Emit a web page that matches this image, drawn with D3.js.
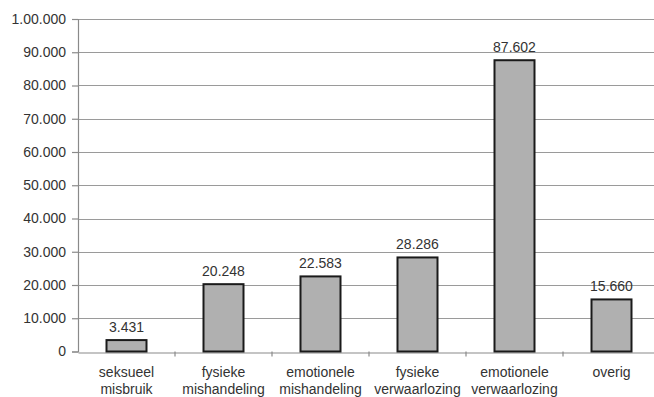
<!DOCTYPE html>
<html>
<head>
<meta charset="utf-8">
<script src="https://cdn.jsdelivr.net/npm/d3@7"></script>
<style>
  html, body { margin: 0; padding: 0; background: #fff; }
  svg { display: block; }
  text { font-family: "Liberation Sans", Arial, Helvetica, sans-serif; fill: #333; }
</style>
</head>
<body>
<svg id="chart" width="654" height="397"></svg>
<script>
// Aantal meldingen per categorie
const categories = [
  ["seksueel", "misbruik"],
  ["fysieke", "mishandeling"],
  ["emotionele", "mishandeling"],
  ["fysieke", "verwaarlozing"],
  ["emotionele", "verwaarlozing"],
  ["overig"]
];
const values = [3431, 20248, 22583, 28286, 87602, 15660];
const valueLabels = ["3.431", "20.248", "22.583", "28.286", "87.602", "15.660"];
const yTicks = [0, 10000, 20000, 30000, 40000, 50000, 60000, 70000, 80000, 90000, 100000];
const yTickLabels = ["0", "10.000", "20.000", "30.000", "40.000", "50.000", "60.000", "70.000", "80.000", "90.000", "1.00.000"];

const svg = d3.select("#chart");
const margin = { left: 78, top: 19, bottom: 46 };
const width = 654, height = 397;
const plotRight = 660;

const x = d3.scaleBand()
  .domain(d3.range(categories.length))
  .range([margin.left, plotRight])
  .paddingInner(0)
  .paddingOuter(0);

const y = d3.scaleLinear()
  .domain([0, 100000])
  .range([height - margin.bottom + 0.5, margin.top]);

// Horizontal gridlines
svg.append("g")
  .selectAll("line")
  .data(yTicks.filter(d => d > 0))
  .join("line")
  .attr("x1", margin.left)
  .attr("x2", width)
  .attr("y1", d => Math.round(y(d)) + 0.5)
  .attr("y2", d => Math.round(y(d)) + 0.5)
  .attr("stroke", "#9a9a9a")
  .attr("stroke-width", 1.2);

// Y axis
const yAxis = svg.append("g")
  .attr("transform", `translate(${margin.left},0)`)
  .call(d3.axisLeft(y)
    .tickValues(yTicks)
    .tickFormat((d, i) => yTickLabels[i])
    .tickSize(6)
    .tickPadding(6));
yAxis.select(".domain").attr("stroke", "#8a8a8a").attr("stroke-width", 1.2);
yAxis.selectAll(".tick line").attr("stroke", "#8a8a8a").attr("stroke-width", 1.2);
yAxis.selectAll(".tick text")
  .attr("font-size", 14)
  .attr("fill", "#333")
  .style("font-family", "'Liberation Sans', Arial, sans-serif");

// X axis
const xAxis = svg.append("g")
  .attr("transform", `translate(0,${Math.round(y(0)) + 0.5})`)
  .call(d3.axisBottom(x).tickSize(0).tickFormat(""));
xAxis.select(".domain").attr("stroke", "#8a8a8a").attr("stroke-width", 1.2);
xAxis.selectAll(".tick").remove();

// Category separators on the x axis
svg.append("g")
  .selectAll("line")
  .data(d3.range(1, categories.length))
  .join("line")
  .attr("x1", d => x(d))
  .attr("x2", d => x(d))
  .attr("y1", y(0))
  .attr("y2", y(0) + 5)
  .attr("stroke", "#8a8a8a")
  .attr("stroke-width", 1.2);

// Bars
const barW = 40;
svg.append("g")
  .selectAll("rect")
  .data(values)
  .join("rect")
  .attr("x", (d, i) => x(i) + x.bandwidth() / 2 - barW / 2)
  .attr("y", d => y(d))
  .attr("width", barW)
  .attr("height", d => y(0) - y(d))
  .attr("fill", "#b0b0b0")
  .attr("stroke", "#1a1a1a")
  .attr("stroke-width", 2);

// Value labels
svg.append("g")
  .selectAll("text")
  .data(values)
  .join("text")
  .attr("x", (d, i) => x(i) + x.bandwidth() / 2)
  .attr("y", d => y(d) - 8)
  .attr("text-anchor", "middle")
  .attr("font-size", 14)
  .text((d, i) => valueLabels[i]);

// Category labels
const catG = svg.append("g")
  .selectAll("text")
  .data(categories)
  .join("text")
  .attr("x", (d, i) => x(i) + x.bandwidth() / 2)
  .attr("y", 377)
  .attr("text-anchor", "middle")
  .attr("font-size", 14);
catG.selectAll("tspan")
  .data(d => d)
  .join("tspan")
  .attr("x", function () { return d3.select(this.parentNode).attr("x"); })
  .attr("dy", (d, i) => i === 0 ? 0 : 17)
  .text(d => d);
</script>
</body>
</html>
